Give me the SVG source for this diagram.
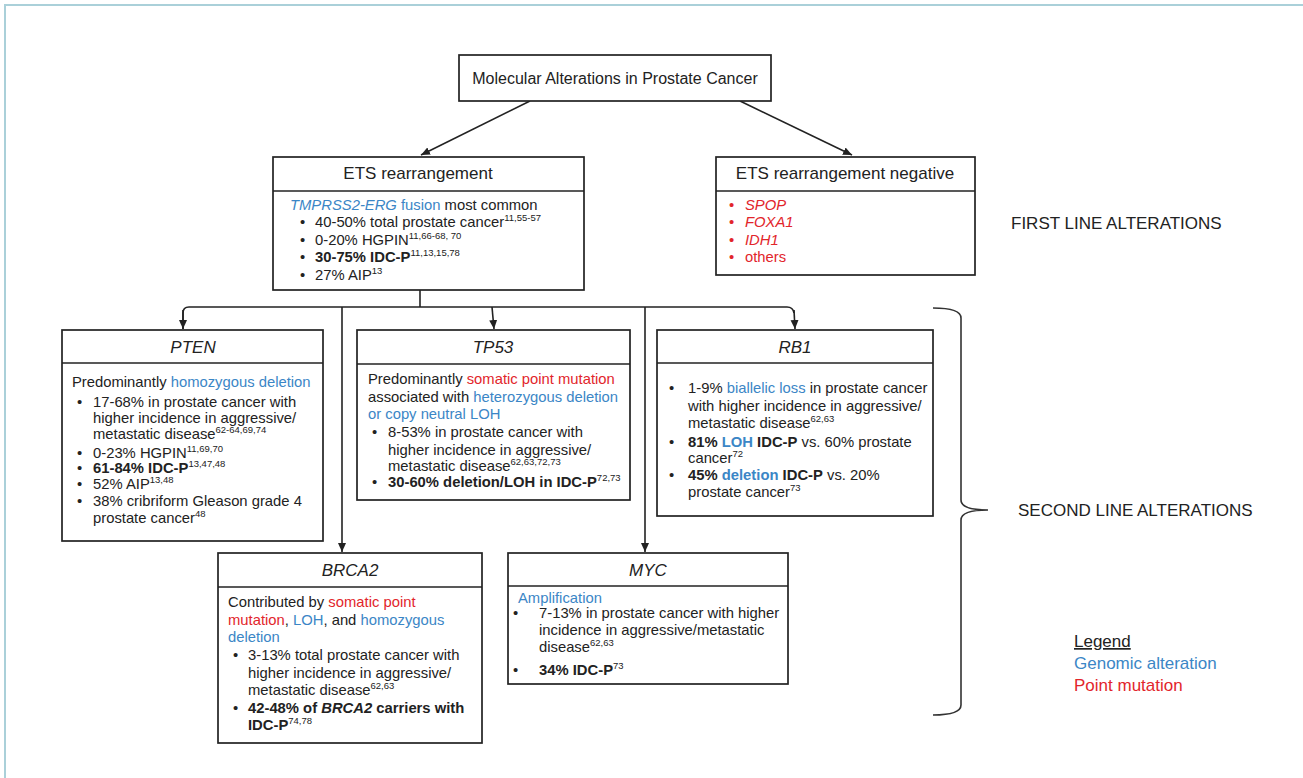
<svg xmlns="http://www.w3.org/2000/svg" width="1303" height="778" viewBox="0 0 1303 778">
<style>
text{font-family:"Liberation Sans",Arial,sans-serif;fill:#222}
.h{font-size:17px}
.b{font-size:14.8px}
.t{font-size:16px}
.side{font-size:17px}
.lg{font-size:17px}
.i{font-style:italic}
.bd{font-weight:bold}
.bl{fill:#3b86c6}
.rd{fill:#e2252b}
.sup{font-size:9.5px}
.box{fill:#fff;stroke:#222;stroke-width:1.7}
.div{stroke:#222;stroke-width:1.7}
.con{fill:none;stroke:#222;stroke-width:1.6}
</style>
<defs>
<marker id="ah" markerUnits="userSpaceOnUse" markerWidth="10" markerHeight="10" viewBox="0 0 10 10" refX="9" refY="5" orient="auto">
<path d="M0,1 L9,5 L0,9 Z" fill="#222"/>
</marker>
</defs>
<rect width="1303" height="778" fill="#fff"/>
<path d="M5,778 V5 H1303" fill="none" stroke="#aad0d9" stroke-width="2"/>

<g id="connectors">
<path class="con" d="M530,101 L421,155" marker-end="url(#ah)"/>
<path class="con" d="M740,101 L852,155" marker-end="url(#ah)"/>
<path class="con" d="M420,290 V307"/>
<path class="con" d="M183,329 V313 Q183,307 189,307 H787 Q793,307 794,313"/>
<path class="con" d="M183,310 V329" marker-end="url(#ah)"/>
<path class="con" d="M342,307 V552" marker-end="url(#ah)"/>
<path class="con" d="M492,307 L494,329" marker-end="url(#ah)"/>
<path class="con" d="M645,307 V552" marker-end="url(#ah)"/>
<path class="con" d="M794,310 L795,329" marker-end="url(#ah)"/>
</g>

<g id="title">
<rect class="box" x="459" y="55" width="312" height="46"/>
<text class="t" x="615" y="84" text-anchor="middle">Molecular Alterations in Prostate Cancer</text>
</g>

<g id="ets">
<rect class="box" x="273" y="157" width="311" height="133"/>
<line class="div" x1="273" y1="191" x2="584" y2="191"/>
<text class="h" x="418" y="179" text-anchor="middle">ETS rearrangement</text>
<text class="b" x="290" y="210"><tspan class="i bl">TMPRSS2-ERG</tspan><tspan class="bl"> fusion</tspan> most common</text>
<text class="b" x="300" y="227">•</text><text class="b" x="315" y="227">40-50% total prostate cancer<tspan class="sup" dy="-6">11,55-57</tspan></text>
<text class="b" x="300" y="245">•</text><text class="b" x="315" y="245">0-20% HGPIN<tspan class="sup" dy="-6">11,66-68, 70</tspan></text>
<text class="b" x="300" y="262">•</text><text class="b" x="315" y="262"><tspan class="bd">30-75% IDC-P</tspan><tspan class="sup" dy="-6">11,13,15,78</tspan></text>
<text class="b" x="300" y="280">•</text><text class="b" x="315" y="280">27% AIP<tspan class="sup" dy="-6">13</tspan></text>
</g>

<g id="etsneg">
<rect class="box" x="716" y="157" width="259" height="118"/>
<line class="div" x1="716" y1="191" x2="975" y2="191"/>
<text class="h" x="845" y="179" text-anchor="middle">ETS rearrangement negative</text>
<text class="b rd" x="729" y="210">•</text><text class="b rd i" x="745" y="210">SPOP</text>
<text class="b rd" x="729" y="227">•</text><text class="b rd i" x="745" y="227">FOXA1</text>
<text class="b rd" x="729" y="245">•</text><text class="b rd i" x="745" y="245">IDH1</text>
<text class="b rd" x="729" y="262">•</text><text class="b rd" x="745" y="262">others</text>
</g>

<g id="firstline">
<text class="side" x="1011" y="229">FIRST LINE ALTERATIONS</text>
</g>

<g id="pten">
<rect class="box" x="62" y="330" width="261" height="211"/>
<line class="div" x1="62" y1="363" x2="323" y2="363"/>
<text class="h i" x="193" y="353" text-anchor="middle">PTEN</text>
<text class="b" x="72" y="387">Predominantly <tspan class="bl">homozygous deletion</tspan></text>
<text class="b" x="77" y="407">•</text><text class="b" x="93" y="407">17-68% in prostate cancer with</text>
<text class="b" x="93" y="423">higher incidence in aggressive/</text>
<text class="b" x="93" y="439">metastatic disease<tspan class="sup" dy="-6">62-64,69,74</tspan></text>
<text class="b" x="77" y="458">•</text><text class="b" x="93" y="458">0-23% HGPIN<tspan class="sup" dy="-6">11,69,70</tspan></text>
<text class="b" x="77" y="473">•</text><text class="b" x="93" y="473"><tspan class="bd">61-84% IDC-P</tspan><tspan class="sup" dy="-6">13,47,48</tspan></text>
<text class="b" x="77" y="489">•</text><text class="b" x="93" y="489">52% AIP<tspan class="sup" dy="-6">13,48</tspan></text>
<text class="b" x="77" y="506">•</text><text class="b" x="93" y="506">38% cribriform Gleason grade 4</text>
<text class="b" x="93" y="523">prostate cancer<tspan class="sup" dy="-6">48</tspan></text>
</g>

<g id="tp53">
<rect class="box" x="357" y="330" width="273" height="170"/>
<line class="div" x1="357" y1="364" x2="630" y2="364"/>
<text class="h i" x="493" y="353" text-anchor="middle">TP53</text>
<text class="b" x="368" y="384">Predominantly <tspan class="rd">somatic point mutation</tspan></text>
<text class="b" x="368" y="402">associated with <tspan class="bl">heterozygous deletion</tspan></text>
<text class="b bl" x="368" y="419">or copy neutral LOH</text>
<text class="b" x="372" y="437">•</text><text class="b" x="388" y="437">8-53% in prostate cancer with</text>
<text class="b" x="388" y="455">higher incidence in aggressive/</text>
<text class="b" x="388" y="471">metastatic disease<tspan class="sup" dy="-6">62,63,72,73</tspan></text>
<text class="b" x="372" y="487">•</text><text class="b" x="388" y="487"><tspan class="bd">30-60% deletion/LOH in IDC-P</tspan><tspan class="sup" dy="-6">72,73</tspan></text>
</g>

<g id="rb1">
<rect class="box" x="657" y="330" width="276" height="186"/>
<line class="div" x1="657" y1="363" x2="933" y2="363"/>
<text class="h i" x="795" y="353" text-anchor="middle">RB1</text>
<text class="b" x="669" y="393">•</text><text class="b" x="688" y="393">1-9% <tspan class="bl">biallelic loss</tspan> in prostate cancer</text>
<text class="b" x="688" y="411">with higher incidence in aggressive/</text>
<text class="b" x="688" y="428">metastatic disease<tspan class="sup" dy="-6">62,63</tspan></text>
<text class="b" x="669" y="447">•</text><text class="b" x="688" y="447"><tspan class="bd">81% </tspan><tspan class="bd bl">LOH</tspan><tspan class="bd"> IDC-P</tspan> vs. 60% prostate</text>
<text class="b" x="688" y="463">cancer<tspan class="sup" dy="-6">72</tspan></text>
<text class="b" x="669" y="480">•</text><text class="b" x="688" y="480"><tspan class="bd">45% </tspan><tspan class="bd bl">deletion</tspan><tspan class="bd"> IDC-P</tspan> vs. 20%</text>
<text class="b" x="688" y="497">prostate cancer<tspan class="sup" dy="-6">73</tspan></text>
</g>

<g id="brca2">
<rect class="box" x="218" y="553" width="264" height="190"/>
<line class="div" x1="218" y1="587" x2="482" y2="587"/>
<text class="h i" x="350" y="576" text-anchor="middle">BRCA2</text>
<text class="b" x="228" y="607">Contributed by <tspan class="rd">somatic point</tspan></text>
<text class="b" x="228" y="625"><tspan class="rd">mutation</tspan>, <tspan class="bl">LOH</tspan>, and <tspan class="bl">homozygous</tspan></text>
<text class="b bl" x="228" y="642">deletion</text>
<text class="b" x="233" y="660">•</text><text class="b" x="248" y="660">3-13% total prostate cancer with</text>
<text class="b" x="248" y="678">higher incidence in aggressive/</text>
<text class="b" x="248" y="695">metastatic disease<tspan class="sup" dy="-6">62,63</tspan></text>
<text class="b" x="233" y="713">•</text><text class="b bd" x="248" y="713">42-48% of <tspan class="i">BRCA2</tspan> carriers with</text>
<text class="b" x="248" y="730"><tspan class="bd">IDC-P</tspan><tspan class="sup" dy="-6">74,78</tspan></text>
</g>

<g id="myc">
<rect class="box" x="508" y="553" width="280" height="131"/>
<line class="div" x1="508" y1="586" x2="788" y2="586"/>
<text class="h i" x="648" y="576" text-anchor="middle">MYC</text>
<text class="b bl" x="518" y="603">Amplification</text>
<text class="b" x="513" y="618">•</text><text class="b" x="539" y="618">7-13% in prostate cancer with higher</text>
<text class="b" x="539" y="635">incidence in aggressive/metastatic</text>
<text class="b" x="539" y="652">disease<tspan class="sup" dy="-6">62,63</tspan></text>
<text class="b" x="513" y="675">•</text><text class="b" x="539" y="675"><tspan class="bd">34% IDC-P</tspan><tspan class="sup" dy="-6">73</tspan></text>
</g>

<g id="secondline">
<path d="M933,308 Q961,308 961,318 V500 Q961,510 988,510 Q961,510 961,520 V705 Q961,715 933,715" fill="none" stroke="#333" stroke-width="1.6"/>
<text class="side" x="1018" y="516">SECOND LINE ALTERATIONS</text>
</g>

<g id="legend">
<text class="lg" x="1074" y="647" text-decoration="underline">Legend</text>
<text class="lg bl" x="1074" y="669">Genomic alteration</text>
<text class="lg rd" x="1074" y="691">Point mutation</text>
</g>
</svg>
